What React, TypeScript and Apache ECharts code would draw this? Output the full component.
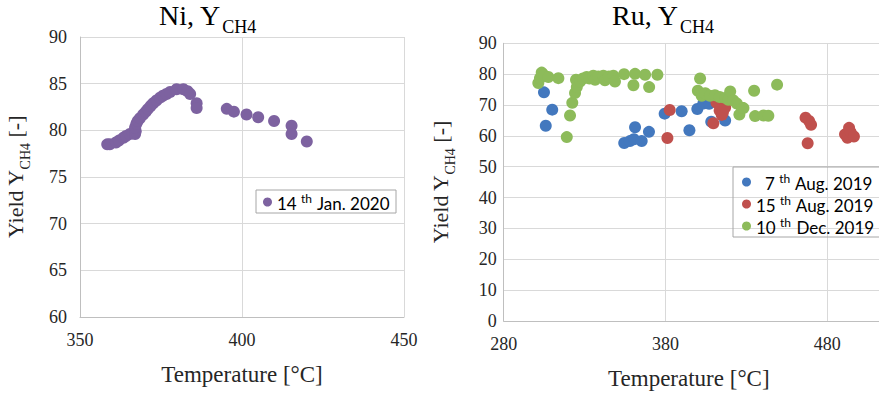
import React, { useEffect, useRef } from 'react';
import * as echarts from 'echarts';

// Ni catalyst, 14th Jan. 2020: [temperature °C, yield]
const niJan14: [number, number][] = [
  [358.4, 78.5], [359.2, 78.5], [361.1, 78.7], [362.0, 78.9], [363.4, 79.2], [364.2, 79.4],
  [365.4, 79.6], [366.3, 79.7], [367.0, 79.6], [367.2, 79.9], [367.0, 80.3], [367.4, 80.7],
  [367.8, 81.0], [368.5, 81.3], [369.5, 81.7], [370.3, 82.0], [371.0, 82.3], [371.8, 82.6],
  [372.6, 82.9], [373.6, 83.2], [374.7, 83.5], [375.6, 83.7], [376.7, 83.9], [377.8, 84.1],
  [379.8, 84.4], [381.9, 84.4], [383.2, 84.2], [384.0, 83.9], [386.0, 82.9], [386.0, 82.4],
  [395.3, 82.3], [397.5, 82.0], [401.4, 81.7], [405.0, 81.4], [409.9, 81.0], [415.3, 80.5],
  [415.3, 79.6], [420.0, 78.8],
];

// Ru catalyst series
const ruAug7: [number, number][] = [
  [304.9, 74.1], [306.0, 63.3], [310.0, 68.5], [354.5, 57.7], [358.0, 58.3], [360.5, 58.9],
  [361.2, 62.8], [365.3, 58.3], [369.8, 61.3], [379.5, 67.2], [390.0, 68.0], [394.8, 61.8],
  [399.7, 68.7], [403.4, 70.5], [407.0, 70.4], [408.3, 64.6], [416.9, 65.0],
];
const ruAug15: [number, number][] = [
  [381.2, 59.3], [382.6, 68.4], [409.6, 64.1], [411.5, 70.8], [413.5, 68.2], [414.8, 66.8],
  [415.5, 67.6], [416.9, 69.2], [466.6, 65.9], [468.8, 64.8], [470.0, 63.6], [467.9, 57.6],
  [491.0, 60.5], [492.5, 59.4], [493.5, 62.6], [494.5, 61.2], [496.5, 59.8],
];
const ruDec10: [number, number][] = [
  [301.4, 77.1], [302.4, 78.7], [303.5, 80.5], [305.0, 79.6], [307.6, 79.1], [313.8, 78.7],
  [319.0, 59.6], [321.0, 66.6], [322.4, 70.7], [324.1, 73.9], [325.2, 75.8], [324.7, 78.2],
  [327.2, 77.6], [329.0, 78.6], [331.3, 79.1], [333.0, 78.6], [335.4, 79.5], [336.5, 78.2],
  [338.5, 79.2], [341.6, 79.5], [342.6, 78.0], [345.0, 79.2], [347.8, 79.5], [348.8, 77.6],
  [354.4, 80.0], [361.2, 80.1], [360.2, 76.4], [367.4, 79.8], [369.9, 75.8], [375.0, 79.8],
  [401.4, 78.6], [400.0, 74.6], [402.4, 73.0], [404.6, 73.8], [407.5, 73.0], [410.6, 73.2],
  [413.5, 72.6], [416.9, 72.3], [418.9, 71.7], [420.0, 74.4], [422.0, 71.5], [424.1, 70.5],
  [425.7, 66.9], [427.2, 69.1], [428.2, 69.0], [434.8, 74.6], [435.4, 66.4], [440.6, 66.6],
  [443.6, 66.5], [449.0, 76.6],
];

const niSeriesNames = ['14th Jan. 2020'];
const ruSeriesNames = ['7th Aug. 2019', '15th Aug. 2019', '10th Dec. 2019'];
const ruXLabelValues = [280, 380, 480];
const ruXGridValues = [380, 480];

const serif = '"Liberation Serif", "DejaVu Serif", serif';
const sans = 'Lato, "Open Sans", sans-serif';
const txt = '#262626';

const axisLine = { show: true, onZero: false, lineStyle: { color: '#bfbfbf', width: 1 } };
const splitLine = { show: true, lineStyle: { color: '#d9d9d9', width: 1 } };

const titleRich = {
  m: { fontFamily: serif, fontSize: 28, lineHeight: 35, verticalAlign: 'top', color: '#000', fontWeight: 'normal' },
  sub: { fontFamily: serif, fontSize: 18, lineHeight: 18, verticalAlign: 'top', padding: [17, 0, 0, 1], color: '#000', fontWeight: 'normal' },
};

const nameRich = {
  m: { fontFamily: serif, fontSize: 22, lineHeight: 26, verticalAlign: 'top', color: txt },
  sub: { fontFamily: serif, fontSize: 14, lineHeight: 14, verticalAlign: 'top', padding: [14, 0, 0, 0], color: txt },
};

const legendRich = {
  a: { fontFamily: sans, fontSize: 17, lineHeight: 20, verticalAlign: 'top', padding: [3, 0, 0, 0], color: '#000' },
  p: { fontFamily: sans, fontSize: 17, lineHeight: 20, verticalAlign: 'top', padding: [3, 0, 0, 9], color: '#000' },
  sup: { fontFamily: sans, fontSize: 12, lineHeight: 12, verticalAlign: 'top', padding: [0, 1, 0, 0], color: '#000' },
};

const legendFormatter = (name: string) => {
  const m = name.match(/^(\d+)th (.*)$/);
  if (!m) return name;
  const tag = m[1].length === 1 ? 'p' : 'a';
  return `{${tag}|${m[1]} }{sup|th}{a| ${m[2]}}`;
};

const yName = '{m|Yield Y}{sub|CH4}{m| [-]}';

const option: any = {
  animation: false,
  backgroundColor: '#fff',
  title: [
    { text: '{m|Ni, Y}{sub|CH4}', left: 159, top: 1, padding: 0, textStyle: { fontWeight: 'normal', rich: titleRich } },
    { text: '{m|Ru, Y}{sub|CH4}', left: 612, top: 1, padding: 0, textStyle: { fontWeight: 'normal', rich: titleRich } },
  ],
  grid: [
    { left: 80, top: 37, width: 324, height: 280 },
    { left: 503.7, top: 43.3, right: 0, height: 279.4 },
  ],
  legend: [
    {
      data: niSeriesNames, orient: 'vertical', left: 256, top: 190, padding: [2, 6, 1, 7],
      borderColor: '#a6a6a6', borderWidth: 1, itemWidth: 9, itemHeight: 9, icon: 'circle', itemGap: 2,
      formatter: legendFormatter, textStyle: { fontFamily: sans, fontSize: 17, rich: legendRich },
    },
    {
      data: ruSeriesNames, orient: 'vertical', left: 733, top: 167, padding: [5, 8, 1, 9],
      borderColor: '#a6a6a6', borderWidth: 1, itemWidth: 9, itemHeight: 9, icon: 'circle', itemGap: 2,
      formatter: legendFormatter, textStyle: { fontFamily: sans, fontSize: 17, rich: legendRich },
    },
  ],
  xAxis: [
    {
      type: 'value', gridIndex: 0, min: 350, max: 450, interval: 50,
      axisLine, axisTick: { show: false }, splitLine,
      axisLabel: { fontFamily: serif, fontSize: 18, color: txt, margin: 14 },
      name: 'Temperature [°C]', nameLocation: 'middle', nameGap: 46,
      nameTextStyle: { fontFamily: serif, fontSize: 23, color: txt },
    },
    {
      type: 'value', gridIndex: 1, min: 280, max: 512, interval: 4,
      axisLine, axisTick: { show: false }, splitLine: { show: false },
      axisLabel: {
        fontFamily: serif, fontSize: 18, color: txt, margin: 14, showMaxLabel: false,
        formatter: (v: number) => (ruXLabelValues.includes(v) ? String(v) : ''),
      },
      name: 'Temperature [°C]', nameLocation: 'middle', nameGap: 46,
      nameTextStyle: { fontFamily: serif, fontSize: 23, color: txt, padding: [0, 5, 0, 0] },
    },
  ],
  yAxis: [
    {
      type: 'value', gridIndex: 0, min: 60, max: 90, interval: 5,
      axisLine, axisTick: { show: false }, splitLine,
      axisLabel: { fontFamily: serif, fontSize: 18, color: txt, margin: 13 },
      name: yName, nameLocation: 'middle', nameGap: 50,
      nameTextStyle: { fontFamily: serif, fontSize: 22, color: txt, rich: nameRich },
    },
    {
      type: 'value', gridIndex: 1, min: 0, max: 90, interval: 10,
      axisLine, axisTick: { show: false }, splitLine,
      axisLabel: { fontFamily: serif, fontSize: 18, color: txt, margin: 7 },
      name: yName, nameLocation: 'middle', nameGap: 48,
      nameTextStyle: { fontFamily: serif, fontSize: 22, color: txt, rich: nameRich },
    },
  ],
  series: [
    {
      name: niSeriesNames[0], type: 'scatter', xAxisIndex: 0, yAxisIndex: 0, data: niJan14,
      symbolSize: 12, itemStyle: { color: '#7D62A0', opacity: 1 }, z: 3,
    },
    {
      name: ruSeriesNames[0], type: 'scatter', xAxisIndex: 1, yAxisIndex: 1, data: ruAug7,
      symbolSize: 12, itemStyle: { color: '#4378BE', opacity: 1 }, z: 3,
      markLine: {
        silent: true, symbol: 'none', z: 1, animation: false,
        label: { show: false },
        lineStyle: { color: '#d9d9d9', width: 1, type: 'solid' },
        emphasis: { disabled: true },
        data: ruXGridValues.map((v) => ({ xAxis: v })),
      },
    },
    {
      name: ruSeriesNames[1], type: 'scatter', xAxisIndex: 1, yAxisIndex: 1, data: ruAug15,
      symbolSize: 12, itemStyle: { color: '#C0504D', opacity: 1 }, z: 3,
    },
    {
      name: ruSeriesNames[2], type: 'scatter', xAxisIndex: 1, yAxisIndex: 1, data: ruDec10,
      symbolSize: 12, itemStyle: { color: '#8DBB5A', opacity: 1 }, z: 3,
    },
  ],
};

export default function App() {
  const ref = useRef<HTMLDivElement>(null);
  useEffect(() => {
    if (!ref.current) return;
    const chart = echarts.init(ref.current, null, { renderer: 'svg' });
    chart.setOption(option);
    return () => chart.dispose();
  }, []);
  return (
    <div
      ref={ref}
      style={{ position: 'fixed', left: 0, top: 0, width: 879, height: 395, background: '#fff' }}
    />
  );
}
